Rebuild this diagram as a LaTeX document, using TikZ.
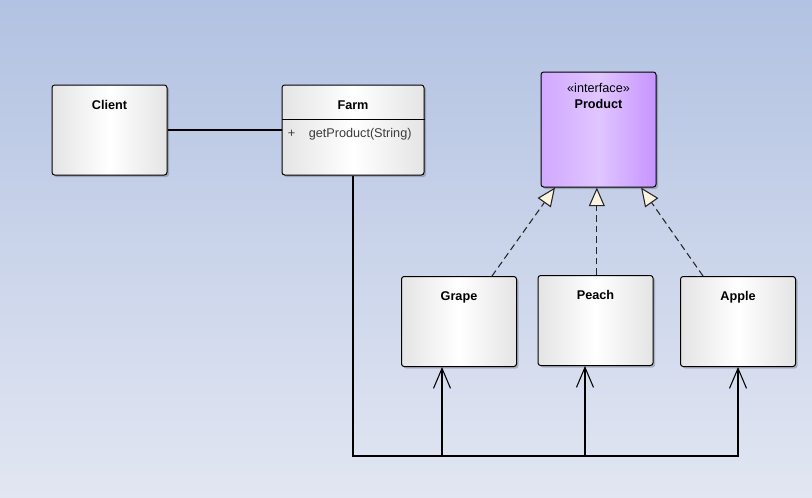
\documentclass[tikz,border=0pt]{standalone}
\usepackage{fontspec}
\setmainfont{Liberation Sans}
\usepackage{tikz}
\usetikzlibrary{arrows.meta,shadows,calc}

\definecolor{bgTop}{RGB}{178,194,226}
\definecolor{bgBottom}{RGB}{226,230,242}
\definecolor{boxSide}{RGB}{228,228,228}
\definecolor{ifaceSide}{RGB}{198,148,255}
\definecolor{ifaceLeft}{RGB}{210,168,255}
\definecolor{ifaceMid}{RGB}{224,198,255}
\definecolor{tipFill}{RGB}{252,243,224}
\definecolor{opText}{RGB}{60,60,60}

\tikzset{
    classbox/.style={draw=black, line width=0.75pt, rounded corners=2pt, inner sep=0pt,
        minimum width=86.25pt, minimum height=67.5pt,
        left color=boxSide, right color=boxSide, middle color=white,
        drop shadow={shadow xshift=1.5pt, shadow yshift=-1.5pt, opacity=0.2, fill=black}},
    ifacebox/.style={classbox, minimum height=86.25pt,
        left color=ifaceLeft, right color=ifaceSide, middle color=ifaceMid},
    classname/.style={font=\bfseries\fontsize{9.5}{11}\selectfont, anchor=base, inner sep=0pt},
    plaintext/.style={font=\fontsize{9.5}{11}\selectfont, anchor=base, inner sep=0pt},
    assoc/.style={draw=black, line width=0.8pt},
    uses/.style={draw=black, line width=0.8pt, -{Straight Barb[length=15pt, width=12.75pt]}},
    realize/.style={draw=black!85, line width=0.8pt, dash pattern=on 5pt off 3pt,
        -{Triangle[length=14pt, width=12pt, fill=tipFill]}}
}

\begin{document}
\begin{tikzpicture}[x=0.75pt, y=-0.75pt]
        % Background
        \fill[top color=bgTop, bottom color=bgBottom] (0,0) rectangle (812,497);

        % Client and Farm
        \node[classbox] (client) at (109.5,130) {};
        \node[classname] (clientTitle) at ($(client.north)+(0,24.5)$) {Client};

        \node[classbox, minimum width=106.5pt] (farm) at (353,130) {};
        \node[classname] (farmTitle) at ($(farm.north)+(0,24.5)$) {Farm};
        \draw[line width=0.75pt] ($(farm.north west)+(0,35)$) -- ($(farm.north east)+(0,35)$);
        \node[plaintext, text=opText, anchor=base west] (farmVis) at ($(farm.north west)+(6,52.5)$) {+};
        \node[plaintext, text=opText, anchor=base west] (farmOp) at ($(farm.north west)+(27,52.5)$) {getProduct(String)};

        % Interface
        \node[ifacebox] (product) at (598.5,129.5) {};
        \node[plaintext] (productStereo) at ($(product.north)+(0,20.5)$) {«interface»};
        \node[classname] (productTitle) at ($(product.north)+(0,36.5)$) {Product};

        % Concrete products
        \foreach \leaf/\cx/\cy/\txt in {grape/459/321.5/Grape, peach/595.5/320.5/Peach, apple/738/321.5/Apple} {
            \node[classbox] (\leaf) at (\cx,\cy) {};
            \node[classname] (\leaf Title) at ($(\leaf.north)+(0,24.5)$) {\txt};
        }

        % Association
        \draw[assoc] (client.east) -- (farm.west);

        % Farm creates the products
        \coordinate (bus) at (353,456);
        \foreach \leaf/\dx in {grape/-12.75pt, peach/-7.9pt, apple/0pt} {
            \draw[uses] (farm.south) -- (bus) -| ([xshift=\dx]\leaf.south);
        }

        % Realizations
        \draw[realize] ([xshift=24.75pt]grape.north) -- ([xshift=-32.6pt]product.south);
        \draw[realize] ([xshift=1pt]peach.north) -- ([xshift=1pt]peach.north |- product.south);
        \draw[realize] ([xshift=-26.25pt]apple.north) -- ([xshift=31.9pt]product.south);
\end{tikzpicture}
\end{document}
